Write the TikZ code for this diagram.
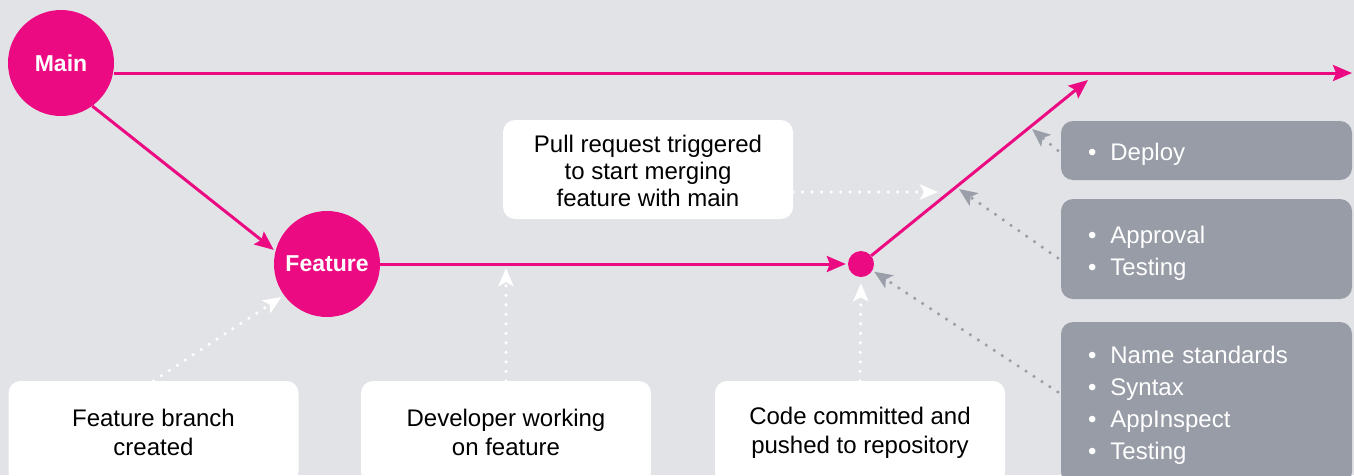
\documentclass[tikz,border=0pt]{standalone}
\usepackage{fontspec}
\setmainfont{Liberation Sans}
\usetikzlibrary{arrows.meta,calc}

\definecolor{bg}{HTML}{E2E3E7}
\definecolor{brand}{HTML}{EC0A82}
\definecolor{panel}{HTML}{979CA6}
\definecolor{hint}{HTML}{999EA8}

\newcommand{\bulletline}[1]{\textbullet\hspace{14pt}#1}
% taller first line pushes the block of text a little lower in its box
\newcommand{\toplift}[1]{\rule{0pt}{#1}}

\tikzset{
  branch/.style={circle, fill=brand, text=white, minimum size=106pt, inner sep=0pt,
    font=\fontsize{23}{27}\selectfont\bfseries},
  flow/.style={draw=brand, line width=3pt,
    -{Stealth[length=19pt,width=16pt,inset=3pt]}},
  note/.style={fill=white, rounded corners=12pt, minimum width=290pt,
    align=center, text=black, inner sep=0pt},
  checks/.style={fill=panel, rounded corners=12pt, minimum width=291pt,
    text width=237pt, inner xsep=27pt, inner ysep=0pt, align=left, text=white,
    font=\fontsize{24}{32}\selectfont},
  wdots/.style={draw=white, line width=3.5pt, line cap=round,
    dash pattern=on 0pt off 9.5pt,
    -{Stealth[length=18pt,width=15pt,inset=4pt,line cap=butt,line join=miter]}},
  gdots/.style={draw=hint, line width=3.5pt, line cap=round,
    dash pattern=on 0pt off 9.5pt,
    -{Stealth[length=18pt,width=15pt,inset=4pt,line cap=butt,line join=miter]}},
}

\begin{document}
\begin{tikzpicture}[x=1pt, y=-1pt]
  % canvas
  \fill[bg] (0,0) rectangle (1354,475);
  \useasboundingbox (0,0) rectangle (1354,475);
  \clip (0,0) rectangle (1354,475);

  % branches
  \node[branch] (main) at (61,63) {Main};
  \node[branch] (feature) at (327,264) {Feature};
  \node[circle, fill=brand, minimum size=26pt, inner sep=0pt] (merge) at (861,264) {};

  % free ends of the branch lines
  \coordinate (mainend) at (1352,73);
  \coordinate (mergeend) at (1088,80);

  \draw[flow] (main.east |- mainend) -- (mainend);
  \draw[flow, shorten >=2pt] (main.-54) -- (feature.166);
  \draw[flow, shorten >=2pt] (feature.east |- merge) -- (merge.west);
  \draw[flow] (merge) -- (mergeend);

  % explanatory notes
  \node[note, minimum height=99pt, font=\fontsize{24}{27}\selectfont] (pr) at (648,169.5)
    {\toplift{21pt}Pull request triggered\\to start merging\\feature with main};
  \node[note, minimum height=103pt, font=\fontsize{24}{29}\selectfont] (fb) at (153.5,432.5)
    {Feature branch\\created};
  \node[note, minimum height=103pt, font=\fontsize{24}{29}\selectfont] (dev) at (506,432.5)
    {Developer working\\on feature};
  \node[note, minimum height=103pt, font=\fontsize{24}{29}\selectfont] (cc) at (860,432.5)
    {Code committed and\\pushed to repository};

  % check panels
  \node[checks, minimum height=59pt] (deploy) at (1206.5,150.5)
    {\toplift{24pt}\bulletline{Deploy}};
  \node[checks, minimum height=100pt] (approval) at (1206.5,249)
    {\toplift{25pt}\bulletline{Approval}\\\bulletline{Testing}};
  \node[checks, minimum height=162pt] (lint) at (1206.5,403)
    {\toplift{22pt}\bulletline{Name standards}\\\bulletline{Syntax}\\\bulletline{AppInspect}\\\bulletline{Testing}};

  % arrow targets next to the lines
  \coordinate (devtip) at (506,268);
  \coordinate (prtip) at (938,192);
  \coordinate (deploytip) at (1032,129);
  \coordinate (approvaltip) at (959,189);

  % white hints from the notes
  \draw[wdots, shorten >=3pt] (fb.north) -- (feature.216);
  \draw[wdots] (dev.north) -- (devtip);
  \draw[wdots, shorten >=6pt] (cc.north) -- (merge.south);
  \draw[wdots] (pr.east |- prtip) -- (prtip);

  % grey hints from the check panels
  \draw[gdots] ($(deploy.west)+(-3,0)$) -- (deploytip);
  \draw[gdots] ($(approval.west)+(-3,9)$) -- (approvaltip);
  \draw[gdots, shorten >=2pt] ($(lint.west)+(-3,-11)$) -- (merge.-30);
\end{tikzpicture}
\end{document}
